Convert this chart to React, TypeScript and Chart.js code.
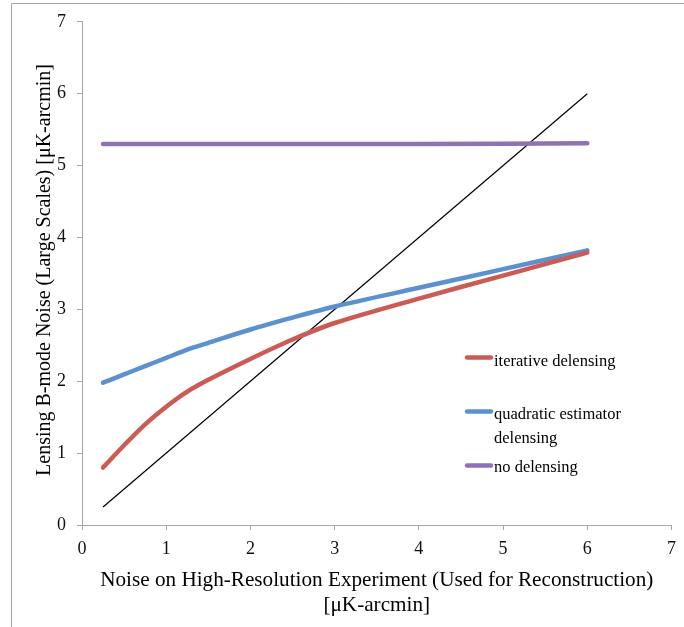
import React, { useEffect, useRef } from "react";
import { Chart, registerables } from "chart.js";

Chart.register(...registerables);

// ---- data ----
const noiseX = [0.25, 0.5, 0.75, 1, 1.25, 1.5, 2, 2.5, 3, 4, 5, 6];
const iterativeDelensing = [0.8, 1.11, 1.4, 1.645, 1.855, 2.02, 2.31, 2.58, 2.81, 3.15, 3.47, 3.79];
const quadraticDelensing = [1.98, 2.095, 2.21, 2.325, 2.44, 2.535, 2.72, 2.885, 3.04, 3.3, 3.56, 3.82];
const noDelensing = [5.3, 5.3, 5.3, 5.3, 5.3, 5.3, 5.3, 5.3, 5.3, 5.3, 5.305, 5.31];
const referenceX = [0.25, 6];
const referenceY = [0.25, 6];
const axisMin = 0;
const axisMax = 7;
const legendLabels = [["iterative delensing"], ["quadratic estimator", "delensing"], ["no delensing"]];
const xTitleLines = ["Noise on High-Resolution Experiment (Used for Reconstruction)", "[\u03bcK-arcmin]"];
const yTitle = "Lensing B-mode Noise (Large Scales) [\u03bcK-arcmin]";

const FONT = "'Liberation Serif', 'Times New Roman', serif";
const RED = "#CD5B55";
const BLUE = "#5B91CE";
const PURPLE = "#8E72B5";
const AXIS = "#a6a6a6";

const pts = (xs: number[], ys: number[]) => xs.map((x, i) => ({ x, y: ys[i] }));

const decorPlugin = {
  id: "decor",
  beforeDraw(chart: any) {
    const ctx = chart.ctx;
    ctx.save();
    ctx.strokeStyle = AXIS;
    ctx.lineWidth = 1;
    ctx.beginPath();
    ctx.moveTo(11.5, chart.height);
    ctx.lineTo(11.5, 3.5);
    ctx.lineTo(chart.width, 3.5);
    ctx.stroke();
    ctx.restore();
  },
  afterDraw(chart: any) {
    const ctx = chart.ctx;
    const area = chart.chartArea;
    ctx.save();
    ctx.fillStyle = "#000";
    // x title
    ctx.font = `21.2px ${FONT}`;
    ctx.textAlign = "center";
    ctx.textBaseline = "alphabetic";
    const cx = (area.left + area.right) / 2;
    ctx.fillText(xTitleLines[0], cx, 586);
    ctx.fillText(xTitleLines[1], cx, 611);
    // y title
    ctx.font = `20px ${FONT}`;
    ctx.save();
    ctx.translate(50, 270);
    ctx.rotate(-Math.PI / 2);
    ctx.fillText(yTitle, 0, 0);
    ctx.restore();
    // legend
    ctx.font = `16.5px ${FONT}`;
    const ds = chart.data.datasets;
    const swatchY = [357.5, 411.5, 465.5];
    const baseY = [[366], [419, 443], [472]];
    ctx.textAlign = "left";
    for (let i = 0; i < 3; i++) {
      ctx.strokeStyle = ds[i].borderColor;
      ctx.lineWidth = 4.5;
      ctx.lineCap = "round";
      ctx.beginPath();
      ctx.moveTo(467, swatchY[i]);
      ctx.lineTo(491, swatchY[i]);
      ctx.stroke();
      legendLabels[i].forEach((t, j) => ctx.fillText(t, 494, baseY[i][j]));
    }
    ctx.restore();
  },
};

export default function App() {
  const ref = useRef<HTMLCanvasElement>(null);
  useEffect(() => {
    document.body.style.margin = "0";
    const canvas = ref.current!;
    const scaleCommon = (isX: boolean) => ({
      type: "linear" as const,
      min: axisMin,
      max: axisMax,
      ticks: {
        stepSize: 1,
        color: "#111",
        font: { family: FONT, size: 18 },
        padding: isX ? 8 : 11,
      },
      grid: { drawOnChartArea: false, drawTicks: true, tickLength: 5, color: AXIS },
      border: { color: AXIS, width: 1 },
      afterFit: (s: any) => {
        if (isX) s.height = 102;
        else s.width = 82;
      },
    });
    const lineStyle = {
      borderWidth: 4.5,
      tension: 0.3,
      pointRadius: 0,
      borderCapStyle: "round",
      borderJoinStyle: "round",
    };
    const chart = new Chart(canvas, {
      type: "line",
      data: {
        datasets: [
          { label: "iterative delensing", data: pts(noiseX, iterativeDelensing), borderColor: RED, ...lineStyle },
          { label: "quadratic estimator delensing", data: pts(noiseX, quadraticDelensing), borderColor: BLUE, ...lineStyle },
          { label: "no delensing", data: pts(noiseX, noDelensing), borderColor: PURPLE, ...lineStyle, tension: 0 },
          {
            label: "reference",
            data: pts(referenceX, referenceY),
            borderColor: "#000",
            borderWidth: 1.2,
            tension: 0,
            pointRadius: 0,
          },
        ],
      },
      options: {
        responsive: false,
        animation: false,
        layout: { padding: { top: 20, right: 7, left: 0, bottom: 0 } },
        plugins: { legend: { display: false }, tooltip: { enabled: false } },
        scales: { x: scaleCommon(true), y: scaleCommon(false) } as any,
      },
      plugins: [decorPlugin],
    } as any);
    return () => chart.destroy();
  }, []);
  return (
    <div style={{ position: "absolute", left: 0, top: 0, width: 684, height: 627, background: "#fff" }}>
      <canvas ref={ref} width={684} height={627} style={{ display: "block" }} />
    </div>
  );
}
